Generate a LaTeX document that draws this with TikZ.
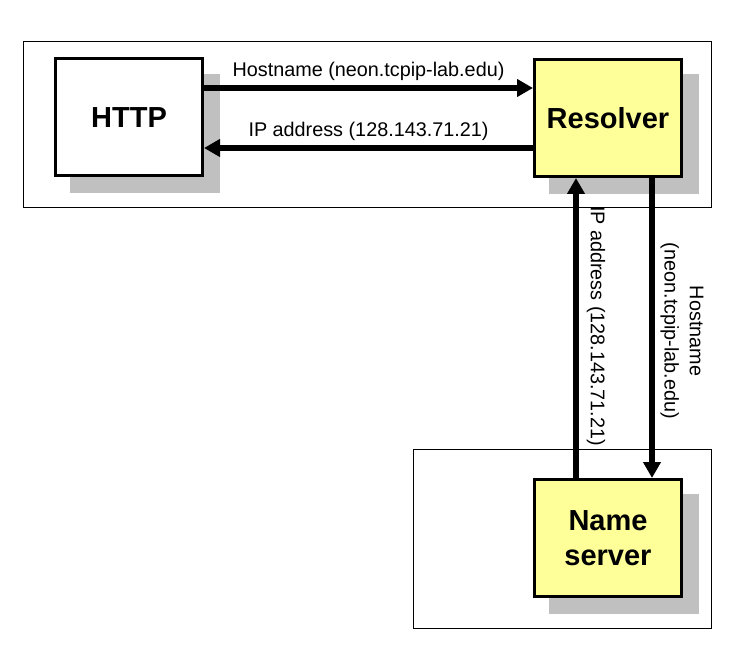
\documentclass[tikz,border=0pt]{standalone}
\usepackage{fontspec}
\setmainfont{Liberation Sans}
\usetikzlibrary{arrows.meta}
\definecolor{boxyellow}{RGB}{255,255,153}
\definecolor{shadowgray}{RGB}{192,192,192}
\newcommand{\lblfont}{\fontsize{19.8}{25}\selectfont}
\newcommand{\boxfont}{\fontsize{29}{35}\selectfont\bfseries}

\begin{document}
\begin{tikzpicture}[x=1pt,y=-1pt,
   box/.style={draw,line width=3pt,minimum width=147pt,minimum height=117pt,
               inner sep=0pt,align=center,font=\boxfont},
   arr/.style={line width=5.5pt,-{Triangle[length=16pt,width=17pt]}},
   lbl/.style={font=\lblfont,align=center,inner sep=2pt}]
   \useasboundingbox (0,0) rectangle (750,668);
   % frames
   \draw (23,41) rectangle (711,207);
   \draw (413,449) rectangle (711,628);
   % shadows
   \fill[shadowgray] (70,74) rectangle (220,193);
   \fill[shadowgray] (549,74) rectangle (699,194);
   \fill[shadowgray] (549,494) rectangle (699,614);
   % boxes
   \node[box,fill=white] (http) at (129,117.5) {HTTP};
   \node[box,fill=boxyellow] (res) at (608,118) {Resolver};
   \node[box,fill=boxyellow] (ns) at (608,538) {Name\\server};
   % arrows
   \draw[arr] (http.east |- 0,88) -- (res.west |- 0,88)
     node[lbl,midway,above=3pt] (hlbl) {Hostname (neon.tcpip-lab.edu)};
   \draw[arr] (res.west |- 0,148) -- (http.east |- 0,148)
     node[lbl,midway,above=3pt] (ilbl) {IP address (128.143.71.21)};
   \draw[arr] (ns.north -| 576,0) -- (res.south -| 576,0);
   \draw[arr] (res.south -| 652,0) -- (ns.north -| 652,0);
   \node[lbl,rotate=-90] (iplbl) at (596,326) {IP address (128.143.71.21)};
   \node[lbl,rotate=-90] (hnlbl) at (682,331) {Hostname\\(neon.tcpip-lab.edu)};
\end{tikzpicture}
\end{document}
